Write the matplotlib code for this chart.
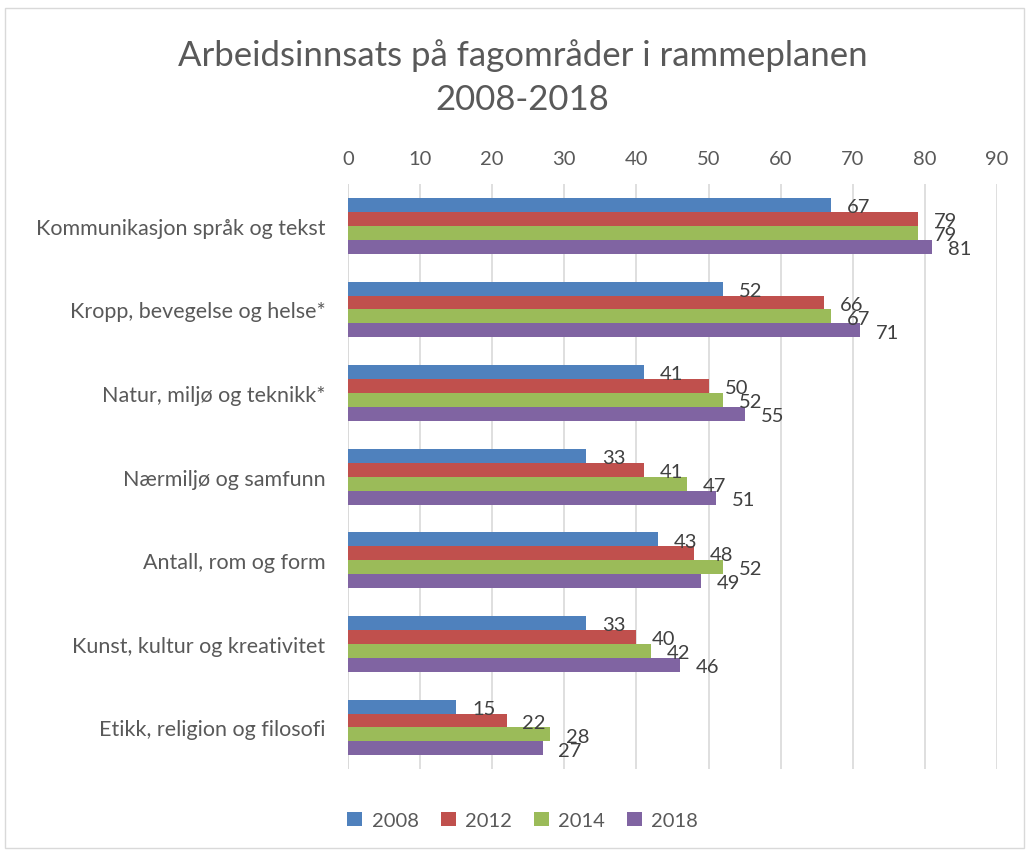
import matplotlib
matplotlib.use("Agg")
import matplotlib.pyplot as plt
import numpy as np

plt.rcParams['font.family'] = ['Lato', 'DejaVu Sans']

categories = ["Kommunikasjon språk og tekst", "Kropp, bevegelse og helse*",
              "Natur, miljø og teknikk*", "Nærmiljø og samfunn",
              "Antall, rom og form", "Kunst, kultur og kreativitet",
              "Etikk, religion og filosofi"]
years = ["2008", "2012", "2014", "2018"]
v2008 = [67, 52, 41, 33, 43, 33, 15]
v2012 = [79, 66, 50, 41, 48, 40, 22]
v2014 = [79, 67, 52, 47, 52, 42, 28]
v2018 = [81, 71, 55, 51, 49, 46, 27]
series = [v2008, v2012, v2014, v2018]
colors = ["#4f81bd", "#c0504d", "#9bbb59", "#8064a2"]
xticks = [0, 10, 20, 30, 40, 50, 60, 70, 80, 90]

fig = plt.figure(figsize=(10.29, 8.53), dpi=100)
fig.patches.append(plt.Rectangle((0.005, 0.005), 0.99, 0.985, transform=fig.transFigure,
                                 fill=False, edgecolor="#d9d9d9", lw=1))
ax = fig.add_axes([0.338, 0.097, 0.631, 0.686])

n = len(categories)
y = np.arange(n)
h = 0.167
txt = "#404040"
for i, (vals, c, yr) in enumerate(zip(series, colors, years)):
    pos = y + (i - 1.5) * h
    ax.barh(pos, vals, height=h, color=c, label=yr, zorder=3)
    for p, v in zip(pos, vals):
        ax.text(v + 2.2, p + 0.02, str(v), va='center', ha='left', fontsize=14.5, color=txt, zorder=4)

ax.set_ylim(n - 0.5, -0.5)
ax.set_xlim(0, 90)
ax.set_xticks(xticks)
ax.xaxis.tick_top()
ax.tick_params(axis='x', length=0, labelsize=14.5, labelcolor="#595959", pad=12)
ax.set_yticks(y)
ax.set_yticklabels(categories, fontsize=15.5, color="#595959")
ax.tick_params(axis='y', length=0, pad=16)
ax.grid(axis='x', color="#d9d9d9", lw=1.2, zorder=0)
for s in ax.spines.values():
    s.set_visible(False)
ax.axvline(0, color="#d9d9d9", lw=1.2, zorder=2)

fig.text(0.508, 0.909, "Arbeidsinnsats på fagområder i rammeplanen\n2008-2018", ha='center', va='center',
         fontsize=25, color="#595959", linespacing=1.45)

fig.legend(loc='center', bbox_to_anchor=(0.508, 0.037), ncol=4, frameon=False,
           fontsize=14.5, handlelength=0.75, handleheight=0.75, columnspacing=1.1, handletextpad=0.45,
           labelcolor="#595959")

fig.savefig("out.png", dpi=100)
